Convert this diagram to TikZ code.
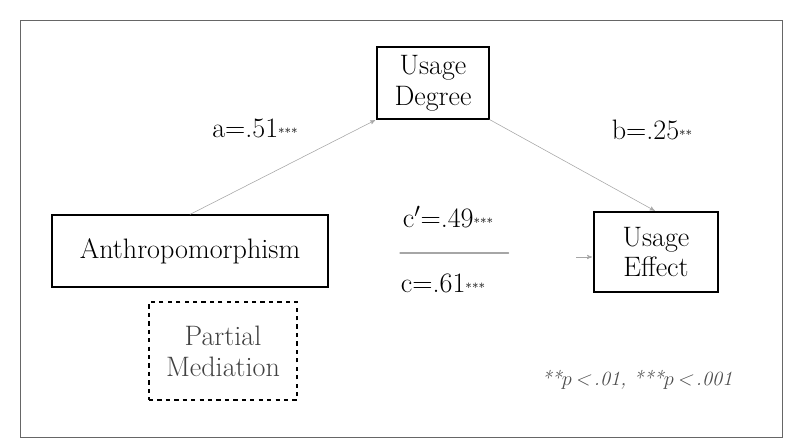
\documentclass[tikz,border=0pt]{standalone}
\usepackage{amsmath}
\usepackage{tikz}
\usetikzlibrary{arrows}

\begin{document}
\begin{tikzpicture}[->,>=stealth',shorten >=1pt,
        var/.style={draw,thick,rectangle,align=center,font=\fontsize{20}{22}\selectfont},
        coef/.style={font=\fontsize{20}{22}\selectfont},
        path/.style={draw=gray!70,thin}]

  \useasboundingbox (0,0) rectangle (20,11.025);
  \draw[-,gray!80!black,thin] (0.5,0.1) rectangle (19.55,10.525);

  \node[var,minimum width=2.8cm,minimum height=1.8cm] (degree) at (10.825,8.95) {Usage\\Degree};
  \node[var,minimum width=6.9cm,minimum height=1.8cm] (anthro) at (4.75,4.75) {Anthropomorphism};
  \node[var,minimum width=3.1cm,minimum height=2cm] (effect) at (16.4,4.725) {Usage\\Effect};
  \node[var,dashed,minimum width=3.7cm,minimum height=2.45cm,text=black!75] (partial) at (5.575,2.25) {Partial\\Mediation};

  \path[path] (anthro.north) -- (degree.south west);
  \path[path] (degree.south east) -- (effect.north);

  \node[coef] (a) at (6.375,7.825) {a=.51{\small***}};
  \node[coef] (b) at (16.3,7.775) {b=.25{\small**}};
  \node[coef] (cp) at (11.2,5.6) {c$'$=.49{\small***}};
  \node[coef] (c) at (11.075,3.95) {c=.61{\small***}};

  \coordinate (barl) at (10,4.7);
  \coordinate (barr) at (12.75,4.7);
  \coordinate (tip) at (14.4,4.6);
  \draw[-,gray!70,thick,line cap=round] (barl) -- (barr);
  \path[path] (tip) -- (effect.west |- tip);

  \node[text=black!70,font=\itshape\Large] (note) at (15.925,1.525) {**$p$\,<\,.01, ***$p$\,<\,.001};

\end{tikzpicture}
\end{document}
